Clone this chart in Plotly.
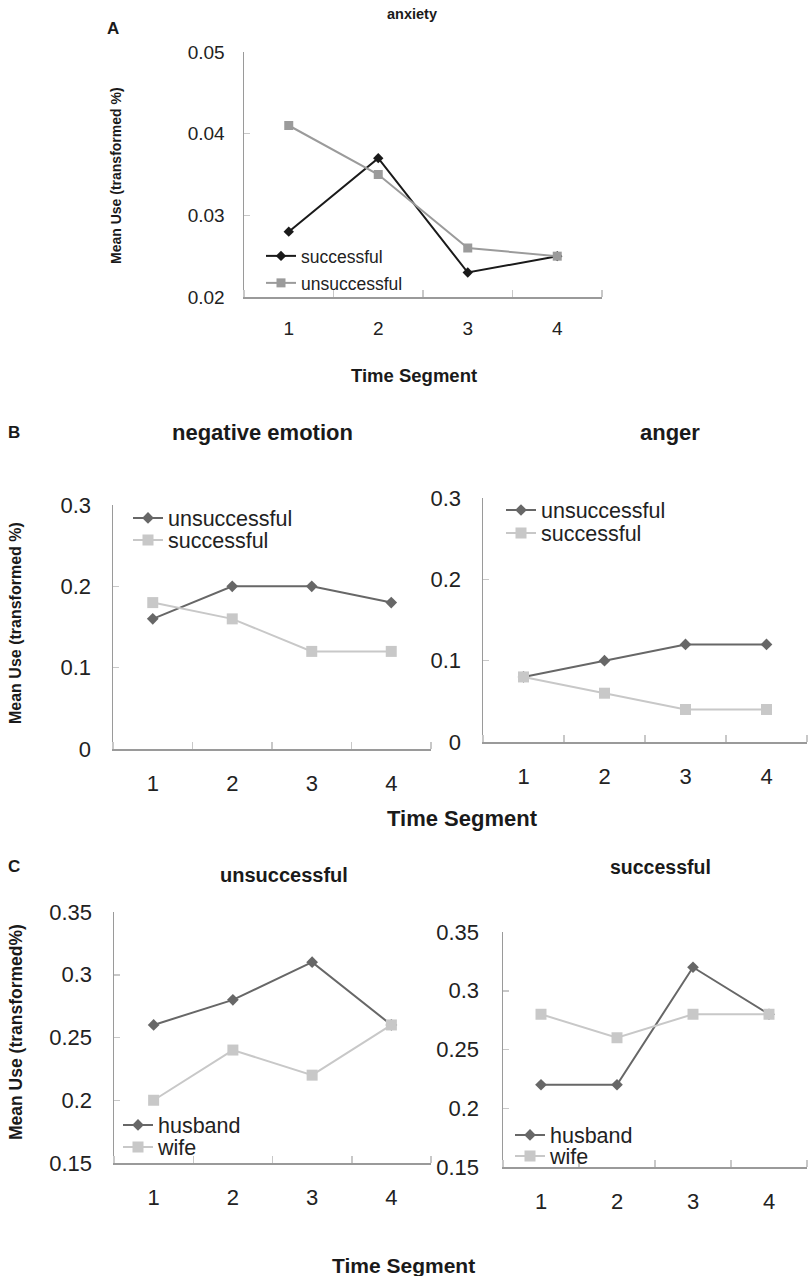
import plotly.graph_objects as go

# ---------------- data ----------------
segments = [1, 2, 3, 4]
seg_labels = ["1", "2", "3", "4"]

# Panel A: anxiety
anx_successful = [0.028, 0.037, 0.023, 0.025]
anx_unsuccessful = [0.041, 0.035, 0.026, 0.025]
a_ticks = [0.02, 0.03, 0.04, 0.05]
a_ticklabels = ["0.02", "0.03", "0.04", "0.05"]

# Panel B: negative emotion / anger
neg_unsuccessful = [0.16, 0.20, 0.20, 0.18]
neg_successful = [0.18, 0.16, 0.12, 0.12]
ang_unsuccessful = [0.08, 0.10, 0.12, 0.12]
ang_successful = [0.08, 0.06, 0.04, 0.04]
b_ticks = [0, 0.1, 0.2, 0.3]
b_ticklabels = ["0", "0.1", "0.2", "0.3"]

# Panel C: unsuccessful / successful by spouse
uns_husband = [0.26, 0.28, 0.31, 0.26]
uns_wife = [0.20, 0.24, 0.22, 0.26]
suc_husband = [0.22, 0.22, 0.32, 0.28]
suc_wife = [0.28, 0.26, 0.28, 0.28]
c_ticks = [0.15, 0.2, 0.25, 0.3, 0.35]
c_ticklabels = ["0.15", "0.2", "0.25", "0.3", "0.35"]

# ---------------- layout helpers ----------------
W, H = 808, 1276
FONT = "Arial, Liberation Sans, Helvetica, sans-serif"
AXIS_COL = "#9a9a9a"
TICK_COL = "#c8c8c8"
DARK = "#676767"
LIGHT = "#c8c8c8"


def fx(p):
    return p / W


def fy(p):
    return 1 - p / H


def px_x(a, b):
    return [fx(a), fx(b)]


def px_y(top, bottom):
    return [fy(bottom), fy(top)]


fig = go.Figure()


def add_series(y, name, color, symbol, size, xa, ya, legend):
    fig.add_trace(go.Scatter(
        x=segments, y=y, name=name, mode="lines+markers",
        line=dict(color=color, width=2),
        marker=dict(color=color, symbol=symbol, size=size),
        xaxis=xa, yaxis=ya, legend=legend, cliponaxis=False, showlegend=True,
    ))


add_series(anx_successful, "successful", "#1a1a1a", "diamond", 8, "x", "y", "legend")
add_series(anx_unsuccessful, "unsuccessful", "#9b9b9b", "square", 9, "x", "y", "legend2")
add_series(neg_unsuccessful, "unsuccessful", DARK, "diamond", 9, "x2", "y2", "legend3")
add_series(neg_successful, "successful", LIGHT, "square", 11, "x2", "y2", "legend4")
add_series(ang_unsuccessful, "unsuccessful", DARK, "diamond", 9, "x3", "y3", "legend5")
add_series(ang_successful, "successful", LIGHT, "square", 11, "x3", "y3", "legend6")
add_series(uns_husband, "husband", DARK, "diamond", 9, "x4", "y4", "legend7")
add_series(uns_wife, "wife", LIGHT, "square", 11, "x4", "y4", "legend8")
add_series(suc_husband, "husband", DARK, "diamond", 9, "x5", "y5", "legend9")
add_series(suc_wife, "wife", LIGHT, "square", 11, "x5", "y5", "legend10")


def xaxis(dom, anchor, fs):
    return dict(
        domain=dom, anchor=anchor, range=[0.5, 4.5], tickmode="array",
        tickvals=segments, ticktext=seg_labels, ticks="", showgrid=False,
        zeroline=False, showline=True, linecolor=AXIS_COL, linewidth=1.5,
        tickfont=dict(family=FONT, size=fs, color="#222"), ticklabelstandoff=14,
        automargin=False,
        minor=dict(tickmode="array", tickvals=[0.5, 1.5, 2.5, 3.5, 4.5], ticks="inside",
                   ticklen=7, tickcolor=TICK_COL, tickwidth=1.5, showgrid=False),
    )


def yaxis(dom, anchor, rng, tv, tt, fs, standoff):
    return dict(
        domain=dom, anchor=anchor, range=rng, tickmode="array", tickvals=tv,
        ticktext=tt, ticks="inside", ticklen=6, tickcolor=TICK_COL, tickwidth=1.5,
        showgrid=False, zeroline=False, showline=True, linecolor=AXIS_COL,
        linewidth=1.5, tickfont=dict(family=FONT, size=fs, color="#222"),
        ticklabelstandoff=standoff, automargin=False,
    )


fig.update_layout(
    width=W, height=H, margin=dict(l=0, r=0, t=0, b=0, autoexpand=False),
    paper_bgcolor="white", plot_bgcolor="white", showlegend=True,
    xaxis=xaxis(px_x(244, 602), "y", 19),
    yaxis=yaxis(px_y(52, 297), "x", [0.02, 0.05], a_ticks, a_ticklabels, 19, 14),
    xaxis2=xaxis(px_x(113, 431), "y2", 22),
    yaxis2=yaxis(px_y(505, 749), "x2", [0, 0.3], b_ticks, b_ticklabels, 22, 16),
    xaxis3=xaxis(px_x(483, 807), "y3", 22),
    yaxis3=yaxis(px_y(498, 742), "x3", [0, 0.3], b_ticks, b_ticklabels, 22, 16),
    xaxis4=xaxis(px_x(114, 431), "y4", 22),
    yaxis4=yaxis(px_y(912, 1163), "x4", [0.15, 0.35], c_ticks, c_ticklabels, 22, 16),
    xaxis5=xaxis(px_x(503, 807), "y5", 22),
    yaxis5=yaxis(px_y(932, 1167), "x5", [0.15, 0.35], c_ticks, c_ticklabels, 22, 18),
)


def legend(x, ycenter, fs):
    return dict(
        x=fx(x), y=fy(ycenter), xanchor="left", yanchor="middle",
        bgcolor="rgba(0,0,0,0)", borderwidth=0, itemwidth=30,
        font=dict(family=FONT, size=fs, color="#222"), tracegroupgap=0,
        itemclick=False, visible=True,
    )


fig.update_layout(
    legend=legend(261, 256, 17.5),
    legend2=legend(261, 283, 17.5),
    legend3=legend(128, 518, 21.5),
    legend4=legend(128, 540, 21.5),
    legend5=legend(501, 510, 21.5),
    legend6=legend(501, 533, 21.5),
    legend7=legend(118, 1125, 21.5),
    legend8=legend(118, 1147, 21.5),
    legend9=legend(510, 1135, 21.5),
    legend10=legend(510, 1156, 21.5),
)


def ann(text, x, y, size, bold=True, angle=0):
    fig.add_annotation(
        text=f"<b>{text}</b>" if bold else text, x=fx(x), y=fy(y),
        xref="paper", yref="paper", showarrow=False, textangle=angle,
        font=dict(family=FONT, size=size, color="#1a1a1a"),
        xanchor="center", yanchor="middle",
    )


# panel letters
ann("A", 113, 28, 17)
ann("B", 14, 433, 17)
ann("C", 14, 866, 17)
# panel titles
ann("anxiety", 412, 14, 14.5)
ann("negative emotion", 262, 432, 22)
ann("anger", 670, 433, 22)
ann("unsuccessful", 284, 875, 20)
ann("successful", 660, 867, 19.5)
# axis titles
ann("Time Segment", 414, 375, 18.5)
ann("Time Segment", 463, 818, 22)
ann("Time Segment", 403, 1265, 21)
ann("Mean Use (transformed %)", 116, 175, 14, angle=-90)
ann("Mean Use (transformed %)", 15, 623, 16, angle=-90)
ann("Mean Use (transformed%)", 16, 1032, 17.5, angle=-90)

fig.write_html(
    "out.html",
    config={"displayModeBar": False, "staticPlot": True},
    post_script="document.body.style.margin='0';document.body.style.overflow='hidden';",
)
